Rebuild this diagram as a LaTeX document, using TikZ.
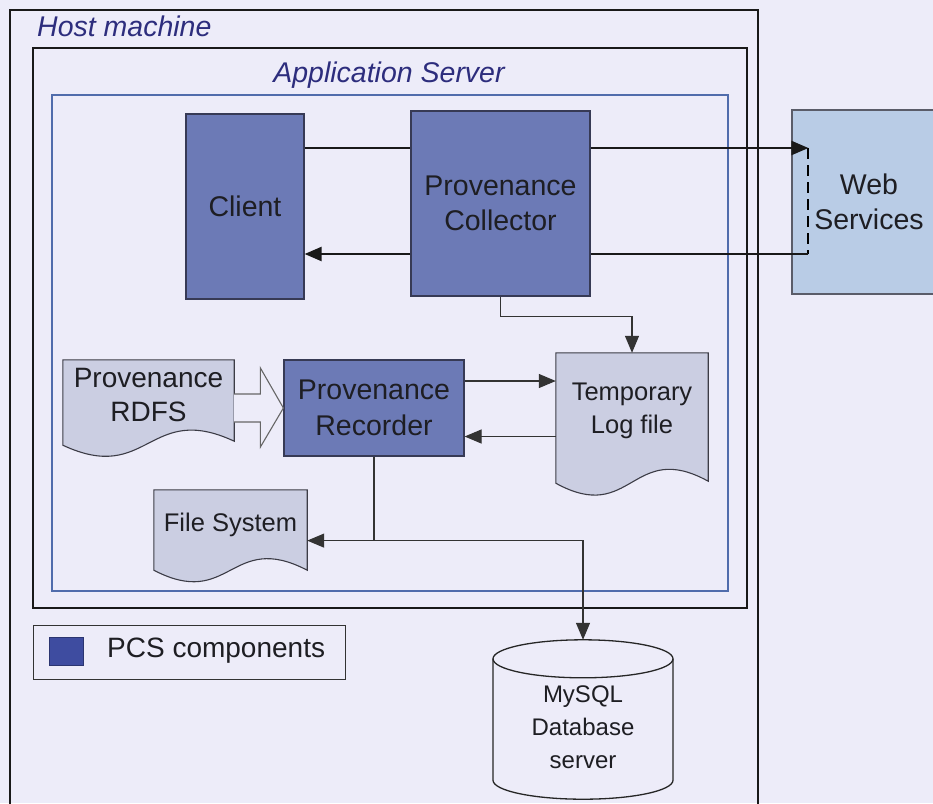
\documentclass[tikz,border=0pt]{standalone}
\usepackage{fontspec}
\setmainfont{Liberation Sans}
\usetikzlibrary{arrows.meta,calc,backgrounds}
\definecolor{bgc}{RGB}{237,236,249}
\definecolor{compfill}{RGB}{108,122,182}
\definecolor{compborder}{RGB}{55,58,85}
\definecolor{docfill}{RGB}{203,206,226}
\definecolor{docborder}{RGB}{60,60,70}
\definecolor{wsfill}{RGB}{185,204,230}
\definecolor{wsborder}{RGB}{90,92,105}
\definecolor{labc}{RGB}{45,45,125}
\definecolor{bluebox}{RGB}{80,108,172}
\definecolor{legsq}{RGB}{62,76,160}
\definecolor{txt}{RGB}{30,30,35}
\newcommand{\docshape}[4]{%
  \path[docstyle] (#1.north west) -- (#1.north east) -- ($(#1.south east)+(0,#3)$)
    .. controls ($(#1.south)+(0,#3-#4)$) and ($(#1.south)+(0,#2+#4)$) .. ($(#1.south west)+(0,#2)$) -- cycle;}
\begin{document}
\begin{tikzpicture}[x=1pt,y=-1pt,
  comp/.style={draw=compborder, line width=1.2pt, fill=compfill, text=txt, align=center,
    font=\fontsize{28.5}{35.5}\selectfont, inner sep=0pt},
  frame/.style={draw=none, inner sep=0pt},
  doclabel/.style={text=txt, align=center, font=\fontsize{25.5}{33}\selectfont, inner sep=0pt},
  dblabel/.style={text=txt, align=center, font=\fontsize{24}{33}\selectfont, inner sep=0pt},
  biglabel/.style={text=txt, align=center, font=\fontsize{28}{34}\selectfont, inner sep=0pt},
  thickline/.style={line width=2.2pt, draw=black!90},
  thinline/.style={line width=1.2pt, draw=black!80},
  tip/.style={-{Triangle[length=17pt,width=14pt]}},
  docstyle/.style={fill=docfill, draw=docborder, line width=1.1pt},
  container/.style={draw=black!90, line width=2.2pt},
  contlabel/.style={text=labc, font=\fontsize{28.5}{32}\selectfont\itshape, inner sep=0pt},
  hollow/.style={draw=black!60, line width=1.1pt, fill=bgc},
  cyl/.style={draw=black!85, line width=1.3pt},
]
\useasboundingbox (0,0) rectangle (933,803);
\begin{pgfonlayer}{background}
  \fill[bgc] (0,0) rectangle (933,803);
  \draw[container] (10,10) rectangle (758,830);
  \draw[container] (33,48) rectangle (747,608);
  \draw[draw=bluebox, line width=1.3pt] (52,95) rectangle (728,591);
\end{pgfonlayer}

% container labels
\node[contlabel, anchor=base west] (hostlbl) at (37,36) {Host machine};
\node[contlabel, anchor=base] (applbl) at (389,82) {Application Server};

% components
\node[comp, minimum width=118, minimum height=185] (cli) at (245,206.5) {Client};
\node[comp, minimum width=179, minimum height=185] (coll) at (500.5,203.5) {Provenance\\Collector};
\node[comp, draw=wsborder, fill=wsfill, minimum width=154, minimum height=184] (ws) at (869,202) {Web\\Services};
\node[comp, minimum width=180, minimum height=96] (rec) at (374,408) {Provenance\\Recorder};

% documents (frames with labels)
\node[frame, minimum width=171, minimum height=84,
  label={[biglabel, yshift=7]center:{Provenance\\RDFS}}] (rdfs) at (148.5,402) {};
\node[frame, minimum width=152, minimum height=129,
  label={[doclabel, yshift=7]center:{Temporary\\Log file}}] (tlog) at (632,417.5) {};
\node[frame, minimum width=153, minimum height=80,
  label={[doclabel, yshift=5]center:{File System}}] (fs) at (230.5,530) {};

% database cylinder frame
\node[frame, minimum width=180, minimum height=159,
  label={[dblabel, yshift=-8]center:{MySQL\\Database\\server}}] (db) at (583,719.5) {};

% legend
\node[draw=black!80, line width=1pt, minimum width=312, minimum height=54, inner sep=0pt] (leg) at (189,652) {};
\node[fill=legsq, draw=legsq!70!black, line width=0.6pt, minimum width=34, minimum height=28, inner sep=0pt] (legsq) at (66,651) {};
\node[anchor=west, text=txt, font=\fontsize{28}{32}\selectfont, inner sep=0pt] (legtxt) at (107,651) {PCS components};

\begin{pgfonlayer}{background}
  \docshape{rdfs}{1}{-3}{40}
  \docshape{tlog}{1}{-1}{42}
  \docshape{fs}{0}{0}{40}
  \coordinate (dbT) at ($(db.north)+(0,19)$);
  \coordinate (dbB) at ($(db.south)+(0,-19)$);
  \draw[cyl] ($(dbT)+(-90,0)$) -- ($(dbB)+(-90,0)$) arc[start angle=180, end angle=0, x radius=90, y radius=19] -- ($(dbT)+(90,0)$);
  \draw[cyl] (dbT) ellipse [x radius=90, y radius=19];
\end{pgfonlayer}

% connectors: client / collector / web services
\coordinate (c1) at ($(coll.west)+(0,-55.5)$);
\draw[thickline] (cli.east |- c1) -- (c1);
\coordinate (c2) at ($(coll.east)+(0,-55.5)$);
\coordinate (wsin1) at ($(c2 -| ws.west)+(17,0)$);
\coordinate (wsin2) at ($(wsin1)+(0,106)$);
\draw[line width=2pt, draw=black, dash pattern=on 11pt off 6pt] (wsin1) -- (wsin2);
\draw[thickline, tip] (c2) -- (wsin1);
\draw[thickline] (wsin2) -- (wsin2 -| coll.east);
\coordinate (c3) at ($(coll.west)+(0,50.5)$);
\draw[thickline, tip] (c3) -- (c3 -| cli.east);

% collector -> temporary log
\draw[thinline, tip] (coll.south) -- ++(0,20) -| (tlog.north);

% recorder <-> temporary log
\coordinate (r1) at ($(rec.east)+(0,-27)$);
\draw[thinline, tip] (r1) -- (r1 -| tlog.west);
\coordinate (r2) at ($(tlog.west)+(0,19)$);
\draw[thinline, tip] (r2) -- (r2 -| rec.east);

% recorder -> file system / database
\coordinate (j) at ($(rec.south)+(0,84)$);
\draw[thinline] (rec.south) -- (j);
\draw[thinline, tip] (j) -- (j -| fs.east);
\draw[thinline, tip] (j) -| (db.north);

% hollow arrow RDFS -> recorder
\coordinate (ha) at (rdfs.east |- rec.west);
\draw[hollow] ($(ha)+(0,-14)$) -- ($(rec.west)+(-23,-14)$) -- ($(rec.west)+(-23,-40)$) -- (rec.west)
  -- ($(rec.west)+(-23,39)$) -- ($(rec.west)+(-23,14)$) -- ($(ha)+(0,14)$);
\end{tikzpicture}
\end{document}
